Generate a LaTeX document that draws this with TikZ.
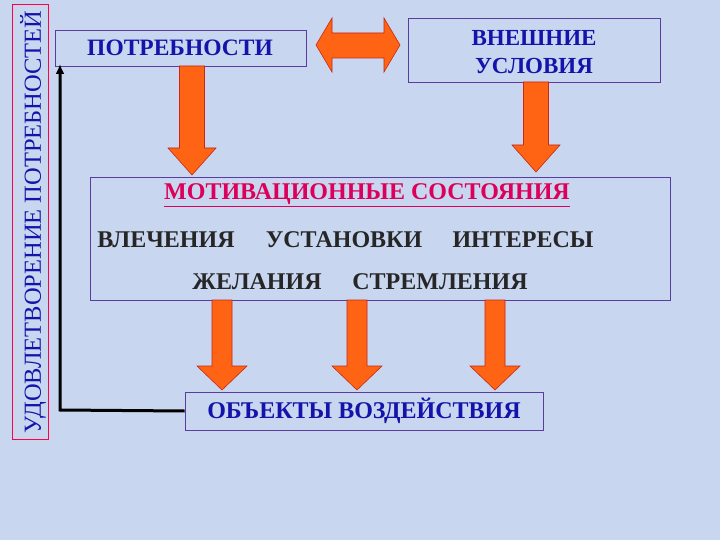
\documentclass[tikz,border=0pt]{standalone}
\usepackage{fontspec}
\setmainfont{Liberation Serif}
\usetikzlibrary{shapes.arrows,arrows.meta}
\definecolor{bg}{RGB}{200,214,240}
\definecolor{txtblue}{RGB}{20,20,170}
\definecolor{boxline}{RGB}{90,60,160}
\definecolor{arrfill}{RGB}{255,100,20}
\definecolor{arrline}{RGB}{200,40,20}
\definecolor{titlecol}{RGB}{220,0,90}
\tikzset{
  box/.style={draw=boxline, line width=0.8pt, inner sep=0pt},
  fat/.style={fill=arrfill, draw=arrline, line width=0.6pt},
  word/.style={font=\bfseries\fontsize{24}{26}\selectfont, text=black!85},
}
\begin{document}
\begin{tikzpicture}[x=1pt,y=-1pt]
\fill[bg] (0,0) rectangle (720,540);
\useasboundingbox (0,0) rectangle (720,540);
% left vertical box
\node[draw=red!70!magenta, line width=0.8pt, minimum width=36pt, minimum height=435pt, inner sep=0pt] (sat) at (30,222) {};
\node[rotate=90, text=txtblue, font=\fontsize{24.5}{26}\selectfont] (satt) at (33,222) {УДОВЛЕТВОРЕНИЕ ПОТРЕБНОСТЕЙ};
% top boxes
\node[box, minimum width=251pt, minimum height=36pt] (need) at (180.5,48) {};
\node[text=txtblue, font=\bfseries\fontsize{23.5}{25}\selectfont] (needt) at (180,48) {ПОТРЕБНОСТИ};
\node[box, minimum width=252pt, minimum height=64pt] (ext) at (534,50) {};
\node[text=txtblue, font=\bfseries\fontsize{23}{28}\selectfont, align=center] (extt) at (534,52) {ВНЕШНИЕ\\УСЛОВИЯ};
% double arrow
\draw[fat] (316,45) -- (332,18) -- (332,33) -- (384,33) -- (384,18) -- (400,45) -- (384,72) -- (384,58) -- (332,58) -- (332,72) -- cycle;
% big box
\node[box, minimum width=580pt, minimum height=123pt] (mot) at (380,238.5) {};
\node[text=titlecol, font=\bfseries\fontsize{24}{26}\selectfont] (mott) at (367,195) {\underline{МОТИВАЦИОННЫЕ СОСТОЯНИЯ}};
\node[word] (w1) at (166,240) {ВЛЕЧЕНИЯ};
\node[word] (w2) at (344,240) {УСТАНОВКИ};
\node[word] (w3) at (523,240) {ИНТЕРЕСЫ};
\node[word] (w4) at (257,282) {ЖЕЛАНИЯ};
\node[word] (w5) at (440,282) {СТРЕМЛЕНИЯ};
% objects box
\node[box, minimum width=358pt, minimum height=38pt] (obj) at (364,411) {};
\node[text=txtblue, font=\bfseries\fontsize{24}{26}\selectfont] (objt) at (364,411) {ОБЪЕКТЫ ВОЗДЕЙСТВИЯ};
% down arrows
\foreach \cx/\ya/\yb/\yc/\sw/\hw in {192/66/148/175/12.5/24, 536/82/145/172/12.5/24, 222/300/366/390/10/25, 357/300/366/390/10/25, 495/300/366/390/10/25}{
  \draw[fat] (\cx-\sw,\ya) -- (\cx+\sw,\ya) -- (\cx+\sw,\yb) -- (\cx+\hw,\yb) -- (\cx,\yc) -- (\cx-\hw,\yb) -- (\cx-\sw,\yb) -- cycle;
}
% feedback arrow
\coordinate (fb) at (60,410);
\coordinate (top) at (60,64);
\draw[line width=3pt, -{Latex[length=10pt,width=9pt]}] (obj.west) -- (fb) -- (top);
\end{tikzpicture}
\end{document}
